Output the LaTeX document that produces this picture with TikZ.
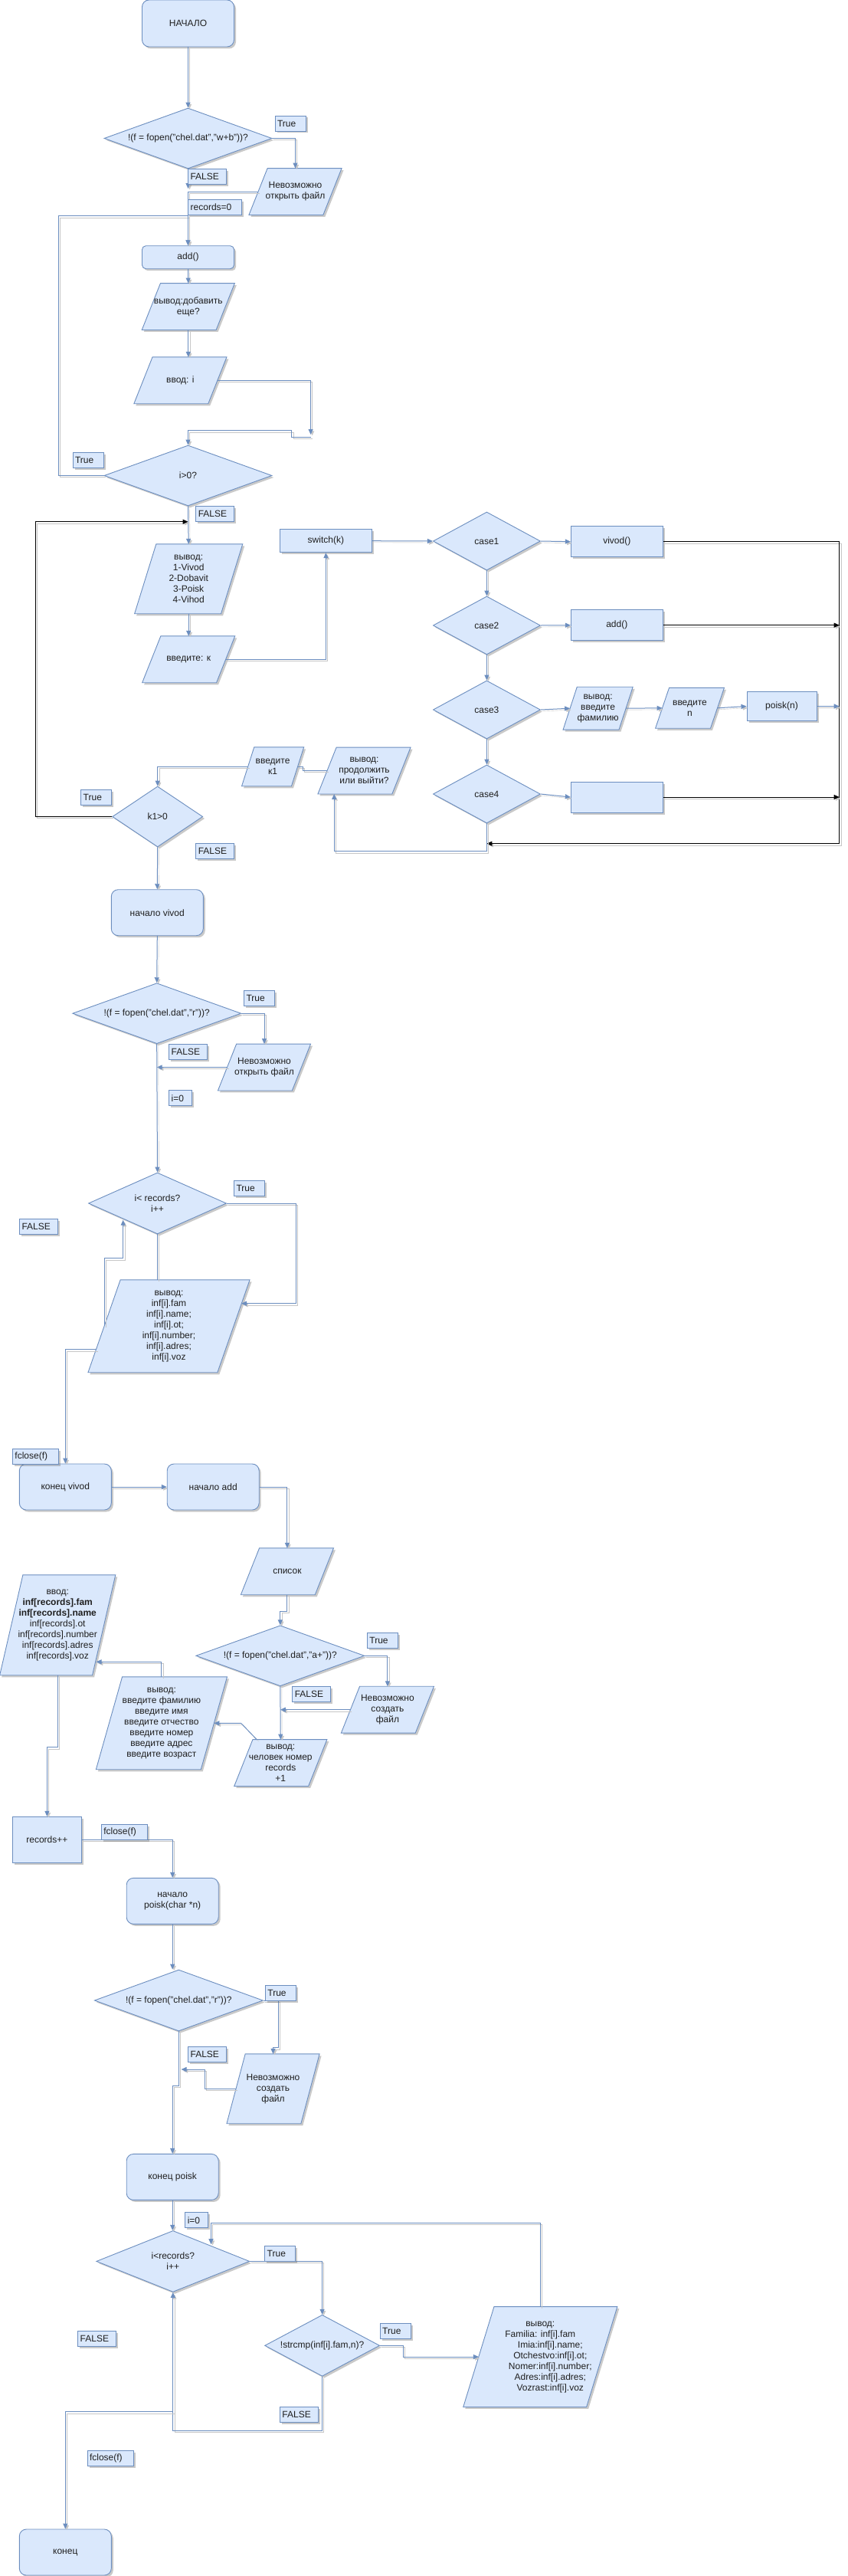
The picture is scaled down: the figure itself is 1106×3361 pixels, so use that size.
\documentclass[tikz,border=0pt]{standalone}
\usepackage{fontspec}
\setmainfont{Liberation Sans}
\usetikzlibrary{shapes.geometric,arrows.meta,shadows,calc}
\definecolor{bluefill}{HTML}{DAE8FC}
\definecolor{lineblue}{HTML}{6C8EBF}
\makeatletter
\pgfdeclareshape{slantbox}{%
  \inheritsavedanchors[from=rectangle]%
  \inheritanchorborder[from=rectangle]%
  \inheritanchor[from=rectangle]{center}%
  \inheritanchor[from=rectangle]{mid}%
  \inheritanchor[from=rectangle]{base}%
  \inheritanchor[from=rectangle]{north}%
  \inheritanchor[from=rectangle]{south}%
  \inheritanchor[from=rectangle]{east}%
  \inheritanchor[from=rectangle]{west}%
  \inheritanchor[from=rectangle]{north east}%
  \inheritanchor[from=rectangle]{north west}%
  \inheritanchor[from=rectangle]{south east}%
  \inheritanchor[from=rectangle]{south west}%
  \backgroundpath{%
    \southwest \edef\slbxa{\the\pgf@x}\edef\slbya{\the\pgf@y}%
    \northeast \edef\slbxb{\the\pgf@x}\edef\slbyb{\the\pgf@y}%
    \pgfmathsetmacro\slbc{0.125*(\slbxb-(\slbxa))}%
    \pgfpathmoveto{\pgfpoint{\slbxa-\slbc*1pt}{\slbya}}%
    \pgfpathlineto{\pgfpoint{\slbxb-\slbc*1pt}{\slbya}}%
    \pgfpathlineto{\pgfpoint{\slbxb+\slbc*1pt}{\slbyb}}%
    \pgfpathlineto{\pgfpoint{\slbxa+\slbc*1pt}{\slbyb}}%
    \pgfpathclose
  }%
}
\makeatother
\tikzset{
  base/.style={draw=lineblue, fill=bluefill, line width=0.9pt,
    font=\fontsize{12}{14}\selectfont, text=black!88,
    drop shadow={shadow xshift=2.5pt, shadow yshift=-2.5pt, fill=black!60, opacity=0.35}},
  term/.style={base, rectangle, rounded corners=9pt, minimum width=120pt, minimum height=60pt, align=center, inner sep=2pt},
  proc/.style={base, rectangle, align=center, inner sep=2pt},
  io/.style={base, shape=slantbox, align=center, inner sep=0pt},
  dec/.style={base, diamond, inner sep=0pt, align=center},
  lbl/.style={base, rectangle, minimum height=20pt, inner xsep=3pt, inner ysep=0pt, text width=#1pt, align=left},
  link/.style={draw=lineblue, line width=1pt, -{Triangle[length=7pt,width=6pt]},
    preaction={draw=black!22, transform canvas={xshift=2pt,yshift=-2pt}}},
  plainlink/.style={link, -},
  blk/.style={draw=black, line width=1pt, -{Triangle[length=7pt,width=6pt]},
    preaction={draw=black!22, transform canvas={xshift=2pt,yshift=-2pt}}},
}
\begin{document}
\begin{tikzpicture}[x=1pt,y=-1pt]
\fill[white] (0,0) rectangle (1106,3361);
\useasboundingbox (0,0) rectangle (1106,3361);

% ---------- main ----------
\node[term, minimum height=61pt] (start) at (245.5,30.5) {НАЧАЛО};
\node[dec, minimum width=219pt, minimum height=79pt, aspect=2.77] (d1) at (245.5,180.5) {!(f = fopen("chel.dat","w+b"))?};
\node[io, minimum width=96pt, minimum height=60pt] (err1) at (385.5,250) {Невозможно\\открыть файл};
\node[proc, rounded corners=5pt, minimum width=120pt, minimum height=30pt] (add1) at (245.5,335.7) {add()};
\node[io, minimum width=96pt, minimum height=60pt] (ask) at (245.8,400) {вывод:добавить\\еще?};
\node[io, minimum width=96pt, minimum height=60pt] (inI) at (235.4,496.3) {ввод: i};
\node[dec, minimum width=219pt, minimum height=79pt, aspect=2.77] (d2) at (245.5,620.5) {i>0?};
\node[io, minimum width=112pt, minimum height=90pt] (menu) at (246.2,755.3) {вывод:\\1-Vivod\\2-Dobavit\\3-Poisk\\4-Vihod};
\node[io, minimum width=96pt, minimum height=60pt] (inK) at (246.2,860.3) {введите: к};
\node[proc, minimum width=120pt, minimum height=30pt] (sw) at (425.4,705.7) {switch(k)};
\node[dec, minimum width=140pt, minimum height=76pt, aspect=1.84] (c1) at (635.4,706) {case1};
\node[dec, minimum width=140pt, minimum height=76pt, aspect=1.84] (c2) at (635.4,816) {case2};
\node[dec, minimum width=140pt, minimum height=76pt, aspect=1.84] (c3) at (635.4,926) {case3};
\node[dec, minimum width=140pt, minimum height=76pt, aspect=1.84] (c4) at (635.4,1036) {case4};
\node[proc, minimum width=120pt, minimum height=40pt] (vivodc) at (805.3,706.7) {vivod()};
\node[proc, minimum width=120pt, minimum height=40pt] (addc) at (805.3,815.7) {add()};
\node[io, minimum width=72pt, minimum height=55pt] (famq) at (780.6,924.2) {вывод:\\введите\\фамилию};
\node[io, minimum width=71pt, minimum height=52pt] (inN) at (900.5,923.8) {введите\\n};
\node[proc, minimum width=91pt, minimum height=38pt] (poiskc) at (1020.5,921.5) {poisk(n)};
\node[proc, minimum width=120pt, minimum height=40pt] (c4box) at (805.3,1040) {};
\node[io, minimum width=96pt, minimum height=60pt] (cont) at (475.5,1005.5) {вывод:\\продолжить\\или выйти?};
\node[io, minimum width=64pt, minimum height=50pt] (inK1) at (356.1,1000.3) {введите\\к1};
\node[dec, minimum width=118pt, minimum height=79pt, aspect=1.5] (d3) at (205.7,1065.5) {k1>0};

% ---------- vivod ----------
\node[term] (vstart) at (205.3,1190.7) {начало vivod};
\node[dec, minimum width=220pt, minimum height=79pt, aspect=2.78] (d4) at (204.7,1322.2) {!(f = fopen("chel.dat","r"))?};
\node[io, minimum width=96pt, minimum height=60pt] (err2) at (345,1392.5) {Невозможно\\открыть файл};
\node[dec, minimum width=180pt, minimum height=80pt, aspect=2.25] (d5) at (205.5,1570) {i< records?\\i++};
\node[io, minimum width=168pt, minimum height=120pt] (outInf) at (220.5,1730.3) {вывод:\\inf[i].fam\\inf[i].name;\\inf[i].ot;\\inf[i].number;\\inf[i].adres;\\inf[i].voz};
\node[term] (vend) at (85.3,1940) {конец vivod};

% ---------- add ----------
\node[term] (astart) at (278.2,1940) {начало add};
\node[io, minimum width=96pt, minimum height=60pt] (list) at (374.9,2050.3) {список};
\node[dec, minimum width=220pt, minimum height=79pt, aspect=2.78] (d6) at (365.8,2160.3) {!(f = fopen("chel.dat","a+"))?};
\node[io, minimum width=96pt, minimum height=60pt] (err3) at (505.9,2230.7) {Невозможно\\создать\\файл};
\node[io, minimum width=96pt, minimum height=60pt] (num) at (366.3,2300) {вывод:\\человек номер\\records\\+1};
\node[io, minimum width=136pt, minimum height=120pt] (prompts) at (210.9,2248.3) {вывод:\\введите фамилию\\введите имя\\введите отчество\\введите номер\\введите адрес\\введите возраст};
\node[io, minimum width=120pt, minimum height=130pt] (inRec) at (75.2,2120.3) {ввод:\\\textbf{inf[records].fam}\\\textbf{inf[records].name}\\inf[records].ot\\inf[records].number\\inf[records].adres\\inf[records].voz};
\node[proc, minimum width=90pt, minimum height=60pt] (recpp) at (61.4,2400.3) {records++};

% ---------- poisk ----------
\node[term] (pstart) at (225.2,2480.3) {начало\\poisk(char *n)};
\node[dec, minimum width=220pt, minimum height=80pt, aspect=2.75] (d7) at (233.3,2610) {!(f = fopen("chel.dat","r"))?};
\node[io, minimum width=96pt, minimum height=90pt] (err4) at (356.5,2725.3) {Невозможно\\создать\\файл};
\node[term] (pend) at (225.2,2840.4) {конец poisk};
\node[dec, minimum width=200pt, minimum height=80pt, aspect=2.5] (d8) at (225.8,2950.4) {i<records?\\i++};
\node[dec, minimum width=150pt, minimum height=80pt, aspect=1.875] (d9) at (420.6,3060.3) {!strcmp(inf[i].fam,n)?};
\node[io, minimum width=160pt, minimum height=130pt] (fam) at (705.3,3075) {вывод:\\Familia: inf[i].fam\\\hspace*{26pt}Imia:inf[i].name;\\\hspace*{26pt}Otchestvo:inf[i].ot;\\\hspace*{26pt}Nomer:inf[i].number;\\\hspace*{26pt}Adres:inf[i].adres;\\\hspace*{26pt}Vozrast:inf[i].voz};
\node[term] (endn) at (85.3,3330) {конец};

% ---------- connectors ----------
\coordinate (j1) at (245.5,246);
\coordinate (lp1) at (76.5,281.7);
\coordinate (j2) at (405.6,567);
\coordinate (rb) at (1095.7,1100.7);
\coordinate (cb) at (436.2,1110.7);
\coordinate (bk) at (46,680.7);
\coordinate (oiR) at (315,1700.7);
\coordinate (d5in) at (160.7,1591.7);
\coordinate (oiL) at (125.7,1760.7);
\coordinate (numTL) at (335.6,2270);
\coordinate (recR) at (125.5,2168.3);
\coordinate (ex) at (225.8,3146.8);

\draw[link] (start.south) -- (d1.north);
\draw[link] (d1.east) -| (err1.north);
\draw[link] (d1.south) -- (j1);
\draw[link] (err1.west) -| (add1.north);
\draw[link] (d2.west) -| (lp1) -| (add1.north);
\draw[link] (add1.south) -- (ask.north);
\draw[link] (ask.south) -- (ask.south |- inI.north);
\draw[link] (inI.east) -| (j2);
\draw[link] (j2) ++(0,3) -| (380.8,561.7) -| (d2.north);
\draw[link] (d2.south) -- (menu.north);
\draw[link] (menu.south) -- (inK.north);
\draw[link] (inK.east) -| (sw.south);
\draw[link] (sw.east) -- (c1.west);
\draw[link] (c1.east) -- (vivodc.west);
\draw[link] (c2.east) -- (addc.west);
\draw[link] (c3.east) -- (famq.west);
\draw[link] (famq.east) -- (inN.west);
\draw[link] (inN.east) -- (poiskc.west);
\draw[link] (c4.east) -- (c4box.west);
\draw[link] (c1.south) -- (c2.north);
\draw[link] (c2.south) -- (c3.north);
\draw[link] (c3.south) -- (c4.north);
\draw[blk] (vivodc.east) -| (rb) -- (rb -| c4.south);
\draw[blk] (addc.east) -- (addc.east -| rb);
\draw[blk] (c4box.east) -- (c4box.east -| rb);
\draw[link] (poiskc.east) -- (poiskc.east -| rb);
\draw[link] (c4.south) |- (cb) -- (cb |- cont.south);
\draw[plainlink] (cont.west) -- ++(-31.5,0) |- (inK1.east);
\draw[link] (inK1.west) -| (d3.north);
\draw[blk] (d3.west) -| (bk) -- (bk -| d2.south);
\draw[link] (d3.south) -- (vstart.north);

\draw[link] (vstart.south) -- (d4.north);
\draw[link] (d4.east) -| (err2.north);
\draw[link] (err2.west) -- (err2.west -| d4.south);
\draw[link] (d4.south) -- (d5.north);
\draw[link] (d5.east) -- ++(90.2,0) |- (oiR);
\draw[plainlink] (d5.south) -- (d5.south |- outInf.north);
\draw[link] (outInf.west) -- ++(0,-88.6) -| (d5in);
\draw[link] (oiL) -| (vend.north);
\draw[link] (vend.east) -- (astart.west);

\draw[link] (astart.east) -| (list.north);
\draw[link] (list.south) -- ++(0,21.4) -| (d6.north);
\draw[link] (d6.east) -| (err3.north);
\draw[link] (err3.west) -- (err3.west -| d6.south);
\draw[link] (d6.south) -- (num.north);
\draw[link] (numTL) -- (314.6,2248.3) -- (prompts.east);
\draw[link] (prompts.north) |- (recR);
\draw[link] (inRec.south) -- ++(0,94) -| (recpp.north);
\draw[link] (recpp.east) -| (pstart.north);

\draw[link] (pstart.south) -- (pstart.south |- d7.north);
\draw[link] (d7.east) -| (363.6,2671.7) -| (err4.north);
\draw[link] (err4.west) -| (267.1,2700) -- (236.5,2700);
\draw[link] (d7.south) -- ++(0,70.7) -| (pend.north);
\draw[link] (pend.south) -- (pend.south |- d8.north);
\draw[link] (fam.north) |- (275.5,2900.4) -- (275.5,2928.2);
\draw[link] (d8.east) -| (d9.north);
\draw[link] (d9.east) -- ++(30.4,0) |- (fam.west);
\draw[link] (d9.south) -- ++(0,70.6) -| (d8.south);
\draw[link] (ex) -| (endn.north);

% ---------- labels ----------
\node[lbl=34] (lT1) at (379,161) {True};
\node[lbl=44] (lF1) at (270.5,230.3) {FALSE};
\node[lbl=64] (lR0) at (280.7,270.3) {records=0};
\node[lbl=34] (lT2) at (115,600.7) {True};
\node[lbl=44] (lF2) at (280.8,670.7) {FALSE};
\node[lbl=34] (lT3) at (125.7,1040.7) {True};
\node[lbl=44] (lF3) at (280.8,1110.7) {FALSE};
\node[lbl=34] (lT4) at (338.5,1302.7) {True};
\node[lbl=44] (lF4) at (245.7,1372.7) {FALSE};
\node[lbl=24] (lI0) at (235.7,1432.7) {i=0};
\node[lbl=34] (lT5) at (325.5,1550.7) {True};
\node[lbl=44] (lF5) at (50.5,1600.7) {FALSE};
\node[lbl=54] (lC1) at (46.5,1900.5) {fclose(f)};
\node[lbl=34] (lT6) at (499.4,2140.7) {True};
\node[lbl=44] (lF6) at (406.8,2210.7) {FALSE};
\node[lbl=54] (lC2) at (162.3,2390.3) {fclose(f)};
\node[lbl=34] (lT7) at (366.4,2600.7) {True};
\node[lbl=44] (lF7) at (270.6,2680.7) {FALSE};
\node[lbl=24] (lI0b) at (256.8,2896.7) {i=0};
\node[lbl=34] (lT8) at (365.7,2940.6) {True};
\node[lbl=34] (lT9) at (516.2,3041.7) {True};
\node[lbl=44] (lF9) at (390.4,3150.7) {FALSE};
\node[lbl=44] (lF8) at (126.7,3051) {FALSE};
\node[lbl=54] (lC3) at (144,3207.3) {fclose(f)};
\end{tikzpicture}
\end{document}
